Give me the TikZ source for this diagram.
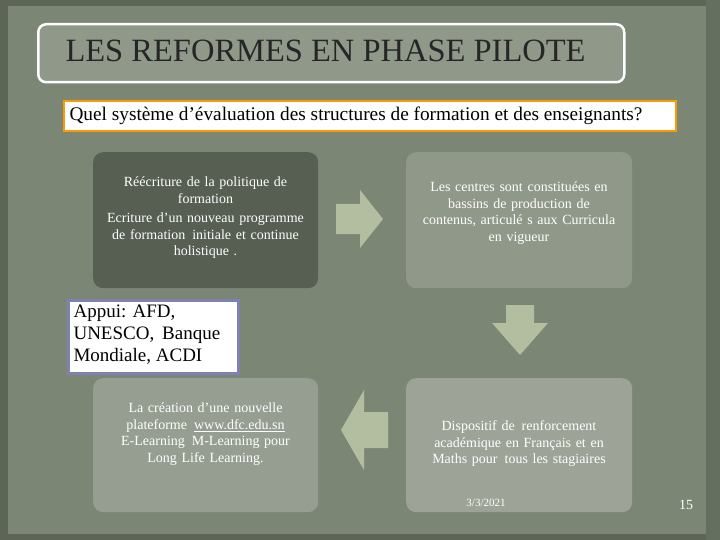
\documentclass[tikz,border=0pt]{standalone}
\usepackage{fontspec}
\setmainfont{Liberation Serif}
\begin{document}
\begin{tikzpicture}[x=1pt,y=-1pt,
  card/.style={rounded corners=10pt, text=white, align=center, font=\fontsize{14}{16.5}\selectfont},
  bigarrow/.style={fill=arrowc, draw=none}]
\definecolor{bgc}{HTML}{7C8675}
\definecolor{edgec}{HTML}{5C6556}
\definecolor{arrowc}{HTML}{B3BD9F}
\useasboundingbox (0,0) rectangle (720,540);
\fill[edgec] (0,0) rectangle (720,540);
\fill[bgc] (8,6) rectangle (706,534);
\fill[edgec!70!bgc] (706,0) rectangle (720,540);
% title
\node[draw=white, line width=2.5pt, rounded corners=8pt, fill=bgc!85!white, minimum width=586pt, minimum height=58pt, anchor=north west] (title) at (37,23) {};
\node[anchor=west, font=\fontsize{32.5}{34}\selectfont, text=black!85] (titletext) at (62,51) {LES REFORMES EN PHASE PILOTE};
% question
\node[draw=orange!80!yellow, line width=2pt, fill=white, minimum width=612pt, minimum height=30pt, anchor=north west] (q) at (63,100) {};
\node[anchor=west, font=\fontsize{19.3}{21}\selectfont] (qtext) at (66,116) {Quel système d’évaluation des structures de formation et des enseignants?};
% cards
\node[card, fill=black!30!bgc, minimum width=225pt, minimum height=136pt, anchor=north west] (tl) at (93,152) {};
\node[card, text width=222pt] (tlt) at (205.5,218) {Réécriture de la politique de\\formation\\[3pt] Ecriture d'un nouveau programme\\de formation\, initiale et continue\\holistique .};
\node[card, fill=bgc!85!white, minimum width=226pt, minimum height=136pt, anchor=north west] (tr) at (406,152) {};
\node[card, text width=222pt] (trt) at (519,213) {Les centres sont constituées en\\bassins de production de\\contenus, articulé s aux Curricula\\en vigueur};
\node[card, fill=bgc!80!white, minimum width=225pt, minimum height=134pt, anchor=north west] (bl) at (93,378) {};
\node[card, text width=222pt] (blt) at (205.5,434) {La création d'une nouvelle\\plateforme\, \underline{www.dfc.edu.sn}\\E-Learning\, M-Learning pour\\Long Life Learning.};
\node[card, fill=bgc!75!white, minimum width=226pt, minimum height=134pt, anchor=north west] (br) at (406,378) {};
\node[card, text width=222pt] (brt) at (519,444) {Dispositif de\, renforcement\\académique en Français et en\\Maths pour\, tous les stagiaires};
\node[text=white, font=\fontsize{11}{12}\selectfont] (date) at (486,503) {3/3/2021};
\node[text=white, font=\fontsize{14}{15}\selectfont] (num) at (686,505) {15};
% arrows
\fill[bigarrow] (336,204) -- (360,204) -- (360,190) -- (383,219) -- (360,248) -- (360,234) -- (336,234) -- cycle;
\fill[bigarrow] (506,305) -- (534,305) -- (534,323) -- (548,323) -- (520,355) -- (492,323) -- (506,323) -- cycle;
\fill[bigarrow] (388,412) -- (364,412) -- (364,390) -- (341,430) -- (364,470) -- (364,448) -- (388,448) -- cycle;
% appui
\node[draw=blue!25!gray!80, line width=2.5pt, fill=white, minimum width=170pt, minimum height=73pt, anchor=north west] (ap) at (67,299) {};
\node[anchor=north west, align=left, font=\fontsize{19}{22}\selectfont] (apt) at (70,301) {Appui: AFD,\\UNESCO,\, Banque\\Mondiale, ACDI};
\end{tikzpicture}
\end{document}
